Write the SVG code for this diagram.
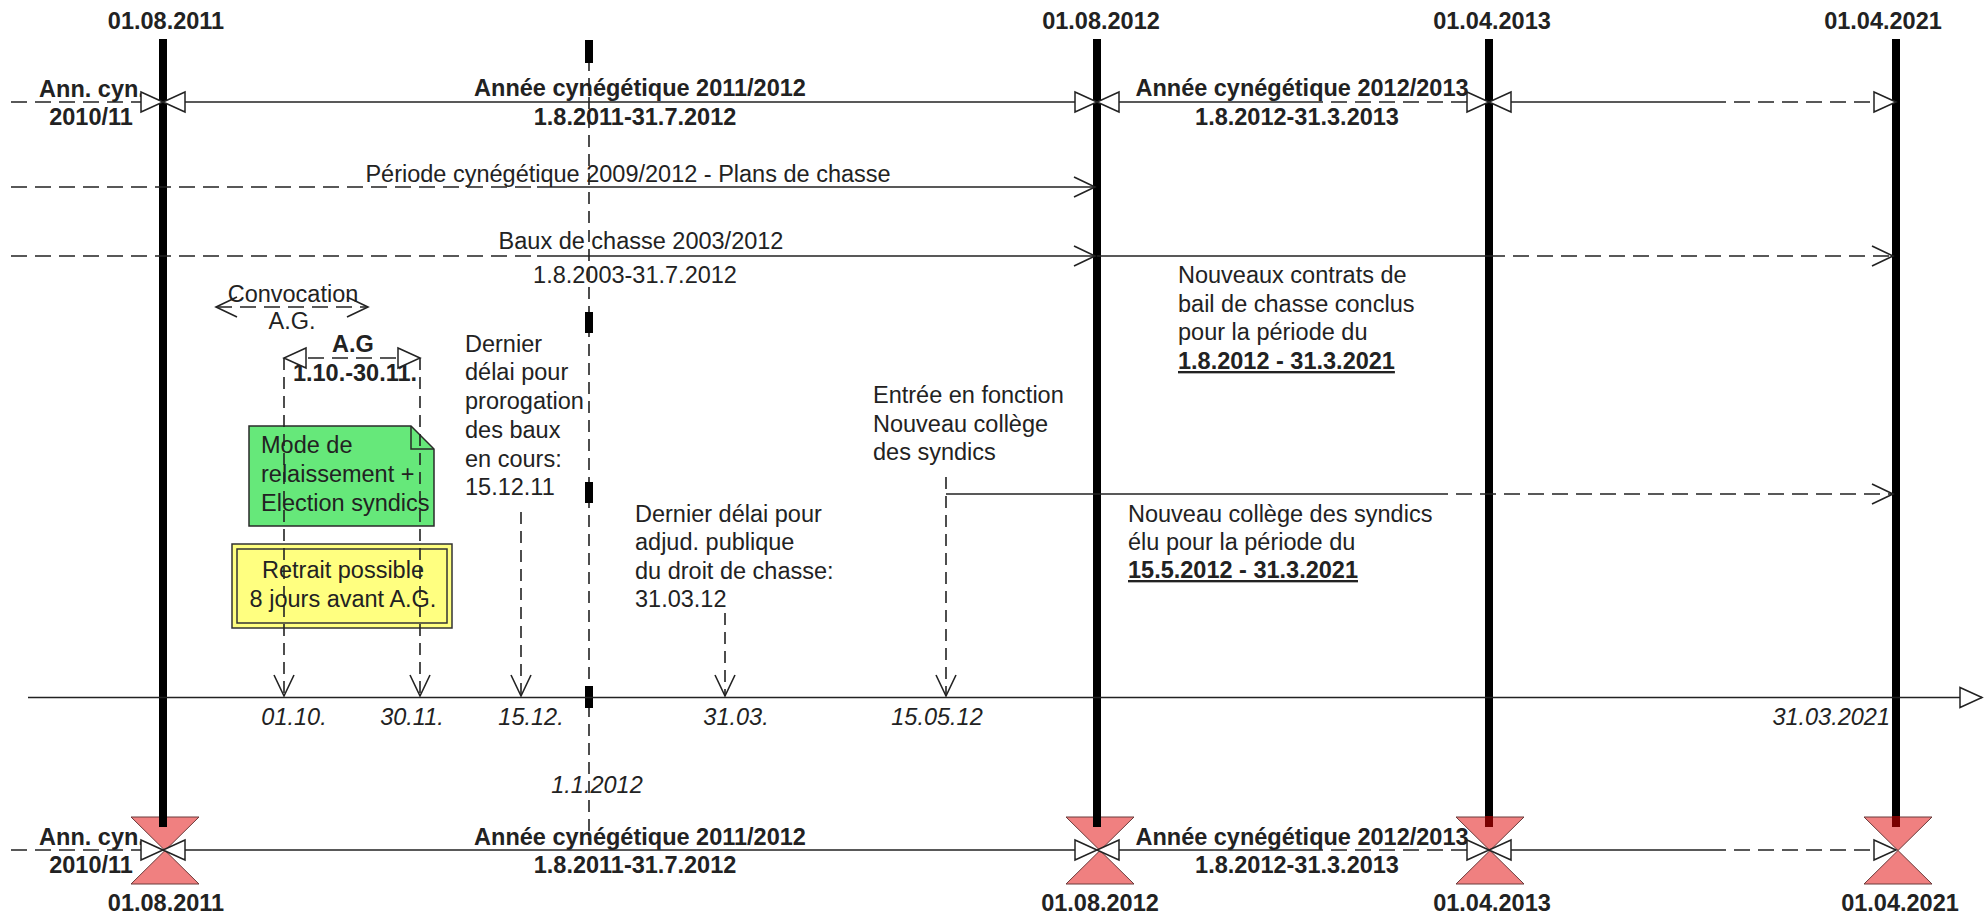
<svg xmlns="http://www.w3.org/2000/svg" width="1988" height="923" viewBox="0 0 1988 923">
<style>
text { font-family: "Liberation Sans", Arial, sans-serif; font-size: 23.5px; fill: #222; }
.b { font-weight: bold; }
.i { font-style: italic; }
.m { text-anchor: middle; }
.u { text-decoration: underline; }
.ln { stroke: #222; stroke-width: 1.6; fill: none; }
.dh { stroke: #222; stroke-width: 1.6; fill: none; stroke-dasharray: 16 8; }
.dv { stroke: #222; stroke-width: 1.6; fill: none; stroke-dasharray: 12 7; }
.life { stroke: #000; stroke-width: 8; }
.hg { fill: #f08080; stroke: #6a3a3a; stroke-width: 1; }
</style>
<defs>
<marker id="tri" markerUnits="userSpaceOnUse" orient="auto-start-reverse" refX="0" refY="0" markerWidth="30" markerHeight="30" overflow="visible">
<path d="M0,0 L-22,-10 L-22,10 Z" fill="#fff" stroke="#222" stroke-width="1.5" stroke-dasharray="none"/>
</marker>
<marker id="vee" markerUnits="userSpaceOnUse" orient="auto-start-reverse" refX="0" refY="0" markerWidth="30" markerHeight="30" overflow="visible">
<path d="M-21,-10 L0,0 L-21,10" fill="none" stroke="#222" stroke-width="1.6" stroke-dasharray="none"/>
</marker>
</defs>
<rect width="1988" height="923" fill="#fff"/>

<g id="lifelines">
<line class="life" x1="163" y1="39" x2="163" y2="827"/>
<line class="life" x1="1097" y1="39" x2="1097" y2="827"/>
<line class="life" x1="1489" y1="39" x2="1489" y2="827"/>
<line class="life" x1="1896" y1="39" x2="1896" y2="827"/>
<line class="dv" x1="589" y1="40" x2="589" y2="840"/>
<g fill="#000">
<rect x="585" y="40" width="8" height="23"/>
<rect x="585" y="312" width="8" height="21"/>
<rect x="585" y="482" width="8" height="21"/>
<rect x="585" y="686" width="8" height="22"/>
</g>
</g>

<g id="hourglasses">
<path class="hg" d="M131,817 H199 L165,850.5 Z M131,884 H199 L165,850.5 Z"/>
<path class="hg" d="M1066,817 H1134 L1100,850.5 Z M1066,884 H1134 L1100,850.5 Z"/>
<path class="hg" d="M1456,817 H1524 L1490,850.5 Z M1456,884 H1524 L1490,850.5 Z"/>
<path class="hg" d="M1864,817 H1932 L1898,850.5 Z M1864,884 H1932 L1898,850.5 Z"/>
<line x1="163" y1="815" x2="163" y2="827" stroke="#000" stroke-width="8"/>
<line x1="1097" y1="815" x2="1097" y2="827" stroke="#000" stroke-width="8"/>
<line x1="1489" y1="816" x2="1489" y2="827" stroke="#7a0000" stroke-width="8"/>
<line x1="1896" y1="816" x2="1896" y2="827" stroke="#7a0000" stroke-width="8"/>
</g>

<g id="dates-top" class="b">
<text class="b m" x="166" y="29">01.08.2011</text>
<text class="b m" x="1101" y="29">01.08.2012</text>
<text class="b m" x="1492" y="29">01.04.2013</text>
<text class="b m" x="1883" y="29">01.04.2021</text>
</g>
<g id="dates-bottom">
<text class="b m" x="166" y="911">01.08.2011</text>
<text class="b m" x="1100" y="911">01.08.2012</text>
<text class="b m" x="1492" y="911">01.04.2013</text>
<text class="b m" x="1900" y="911">01.04.2021</text>
</g>

<g id="labels-row1">
<text class="b m" x="92" y="97">Ann. cyn.</text>
<text class="b m" x="91" y="125">2010/11</text>
<text class="b m" x="640" y="96">Année cynégétique 2011/2012</text>
<text class="b m" x="635" y="125">1.8.2011-31.7.2012</text>
<text class="b m" x="1302" y="96">Année cynégétique 2012/2013</text>
<text class="b m" x="1297" y="125">1.8.2012-31.3.2013</text>
</g>
<g id="labels-rowbottom">
<text class="b m" x="92" y="845">Ann. cyn.</text>
<text class="b m" x="91" y="873">2010/11</text>
<text class="b m" x="640" y="845">Année cynégétique 2011/2012</text>
<text class="b m" x="635" y="873">1.8.2011-31.7.2012</text>
<text class="b m" x="1302" y="845">Année cynégétique 2012/2013</text>
<text class="b m" x="1297" y="873">1.8.2012-31.3.2013</text>
</g>

<g id="periode">
<text class="m" x="628" y="182">Période cynégétique 2009/2012 - Plans de chasse</text>
</g>
<g id="baux">
<text class="m" x="641" y="249">Baux de chasse 2003/2012</text>
<text class="m" x="635" y="283">1.8.2003-31.7.2012</text>
</g>

<g id="convocation">
<text class="m" x="293" y="302">Convocation</text>
<text class="m" x="292" y="329">A.G.</text>
</g>
<g id="ag">
<text class="b m" x="353" y="352">A.G</text>
<text class="b m" x="355" y="381">1.10.-30.11.</text>
</g>

<g id="note-mode">
<path d="M249,426 H411 L434,449 V526 H249 Z" fill="#66e87a" stroke="#2a2a2a" stroke-width="1.5"/>
<path d="M411,426 V449 H434" fill="none" stroke="#2a2a2a" stroke-width="1.5"/>
<text x="261" y="453">Mode de</text>
<text x="261" y="482">relaissement +</text>
<text x="261" y="511">Election syndics</text>
</g>

<g id="retrait">
<rect x="232" y="544" width="220" height="84" fill="#ffff80" stroke="#333" stroke-width="1.5"/>
<rect x="237" y="549" width="210" height="74" fill="none" stroke="#333" stroke-width="1.5"/>
<text class="m" x="343" y="578">Retrait possible</text>
<text class="m" x="343" y="607">8 jours avant A.G.</text>
</g>

<g id="prorogation">
<text x="465" y="352">Dernier</text>
<text x="465" y="380">délai pour</text>
<text x="465" y="409">prorogation</text>
<text x="465" y="438">des baux</text>
<text x="465" y="467">en cours:</text>
<text x="465" y="495">15.12.11</text>
</g>

<g id="adjudication">
<text x="635" y="522">Dernier délai pour</text>
<text x="635" y="550">adjud. publique</text>
<text x="635" y="579">du droit de chasse:</text>
<text x="635" y="607">31.03.12</text>
</g>

<g id="entree">
<text x="873" y="403">Entrée en fonction</text>
<text x="873" y="432">Nouveau collège</text>
<text x="873" y="460">des syndics</text>
</g>

<g id="contrats">
<text x="1178" y="283">Nouveaux contrats de</text>
<text x="1178" y="312">bail de chasse conclus</text>
<text x="1178" y="340">pour la période du</text>
<text class="b u" x="1178" y="369">1.8.2012 - 31.3.2021</text>
</g>

<g id="college">
<text x="1128" y="522">Nouveau collège des syndics</text>
<text x="1128" y="550">élu pour la période du</text>
<text class="b u" x="1128" y="578">15.5.2012 - 31.3.2021</text>
</g>

<g id="timeline-labels">
<text class="i m" x="294" y="725">01.10.</text>
<text class="i m" x="412" y="725">30.11.</text>
<text class="i m" x="531" y="725">15.12.</text>
<text class="i m" x="736" y="725">31.03.</text>
<text class="i m" x="937" y="725">15.05.12</text>
<text class="i" x="1890" y="725" text-anchor="end">31.03.2021</text>
<text class="i m" x="597" y="793">1.1.2012</text>
</g>

<g id="connectors">
<!-- top row -->
<path class="dh" d="M11,102 H163" marker-end="url(#tri)"/>
<path class="ln" d="M163,102 H1097" marker-start="url(#tri)" marker-end="url(#tri)"/>
<path class="ln" d="M1097,102 H1307" marker-start="url(#tri)"/>
<path class="dh" d="M1307,102 H1489" marker-end="url(#tri)"/>
<path class="ln" d="M1489,102 H1710" marker-start="url(#tri)"/>
<path class="dh" d="M1710,102 H1896" marker-end="url(#tri)"/>
<!-- bottom row -->
<path class="dh" d="M11,850 H163" marker-end="url(#tri)"/>
<path class="ln" d="M163,850 H1097" marker-start="url(#tri)" marker-end="url(#tri)"/>
<path class="ln" d="M1097,850 H1307" marker-start="url(#tri)"/>
<path class="dh" d="M1307,850 H1489" marker-end="url(#tri)"/>
<path class="ln" d="M1489,850 H1710" marker-start="url(#tri)"/>
<path class="dh" d="M1710,850 H1896" marker-end="url(#tri)"/>
<!-- periode -->
<path class="dh" d="M11,187 H537"/>
<path class="ln" d="M537,187 H1095" marker-end="url(#vee)"/>
<!-- baux -->
<path class="dh" d="M11,256 H537"/>
<path class="ln" d="M537,256 H1095" marker-end="url(#vee)"/>
<path class="ln" d="M1097,256 H1489"/>
<path class="dh" d="M1489,256 H1893" marker-end="url(#vee)"/>
<!-- syndics -->
<path class="ln" d="M946,494 H1432"/>
<path class="dh" d="M1432,494 H1893" marker-end="url(#vee)"/>
<!-- convocation -->
<path class="dh" d="M216,307 H368" marker-start="url(#vee)" marker-end="url(#vee)"/>
<!-- A.G -->
<path class="dh" d="M284,358 H420" marker-start="url(#tri)" marker-end="url(#tri)"/>
<!-- verticals to timeline -->
<path class="dv" d="M284,358 V696" marker-end="url(#vee)"/>
<path class="dv" d="M420,358 V696" marker-end="url(#vee)"/>
<path class="dv" d="M521,512 V696" marker-end="url(#vee)"/>
<path class="dv" d="M725,613 V696" marker-end="url(#vee)"/>
<path class="dv" d="M946,477 V696" marker-end="url(#vee)"/>
<!-- timeline -->
<path class="ln" d="M28,697.5 H1982" marker-end="url(#tri)"/>
</g>
</svg>
